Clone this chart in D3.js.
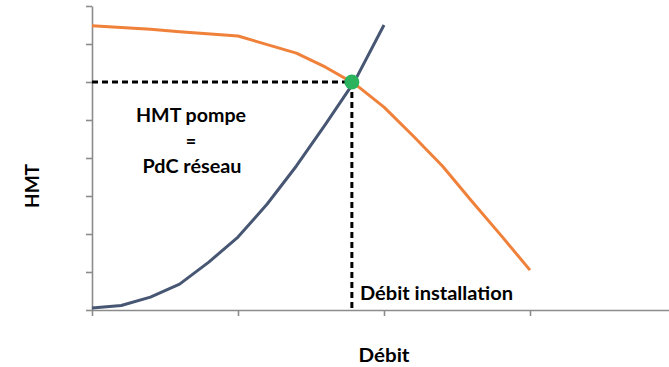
<!DOCTYPE html>
<html><head><meta charset="utf-8">
<script src="https://cdn.jsdelivr.net/npm/d3@7"></script>
<style>
html,body{margin:0;padding:0;background:#fff;}
svg{display:block;}
text{font-family:Lato,"Open Sans",sans-serif;font-weight:bold;fill:#000;}
</style></head>
<body><svg id="c" width="669" height="367"></svg>
<script>
// ---- data ----
const xTicks = [0, 1, 2, 3, 4];
const yTicks = [0, 10, 20, 30, 40, 50, 60, 70, 80];
const pumpFlow = [0, 0.4, 0.6, 1.0, 1.4, 1.6, 1.8, 2.0, 2.2, 2.4, 2.6, 2.8, 3.0];
const pumpHead = [74.8, 73.9, 73.2, 72.1, 67.6, 63.9, 59.5, 53.4, 45.8, 37.9, 28.7, 19.7, 10.5];
const netFlow = [0, 0.2, 0.4, 0.6, 0.8, 1.0, 1.2, 1.4, 1.6, 1.8, 2.0];
const netHead = [0.5, 1.2, 3.4, 6.8, 12.6, 19.2, 27.9, 37.9, 48.9, 60.3, 75];
const opFlow = 1.78, opHead = 60;
const labels = {y: "HMT", x: "Débit", op: "Débit installation", eq: ["HMT pompe", "=", "PdC réseau"]};

// ---- chart ----
const svg = d3.select("#c");
const x = d3.scaleLinear().domain([0, 4]).range([92, 676]);
const y = d3.scaleLinear().domain([0, 80]).range([310, 6]);

const axisCol = "#8c8c8c";
const gx = svg.append("g").attr("transform", "translate(0,310)")
  .call(d3.axisBottom(x).tickValues(xTicks).tickSize(6).tickSizeOuter(0).tickFormat(""));
const gy = svg.append("g").attr("transform", "translate(92,0)")
  .call(d3.axisLeft(y).tickValues(yTicks).tickSize(6).tickSizeOuter(0).tickFormat(""));
[gx, gy].forEach(g => {
  g.selectAll("path,line").attr("stroke", axisCol).attr("stroke-width", 1.6);
});

const line = d3.line().x(d => x(d[0])).y(d => y(d[1]));
const pump = pumpFlow.map((f, i) => [f, pumpHead[i]]);
const net = netFlow.map((f, i) => [f, netHead[i]]);

svg.append("path").datum(net).attr("d", line)
  .attr("fill", "none").attr("stroke", "#475673").attr("stroke-width", 3).attr("stroke-linejoin", "round");
svg.append("path").datum(pump).attr("d", line)
  .attr("fill", "none").attr("stroke", "#F0813A").attr("stroke-width", 3).attr("stroke-linejoin", "round");

// dashed guides
svg.append("line").attr("x1", x(0)).attr("x2", x(opFlow)).attr("y1", y(opHead)).attr("y2", y(opHead))
  .attr("stroke", "#000").attr("stroke-width", 3).attr("stroke-dasharray", "6,4");
svg.append("line").attr("x1", x(opFlow)).attr("x2", x(opFlow)).attr("y1", y(opHead)).attr("y2", y(0))
  .attr("stroke", "#000").attr("stroke-width", 3).attr("stroke-dasharray", "6,4");

svg.append("circle").attr("cx", x(opFlow)).attr("cy", y(opHead)).attr("r", 7.5).attr("fill", "#2BB35E");

// texts
const fs = 18;
svg.append("text").attr("x", 191).attr("y", 122).attr("text-anchor", "middle").attr("font-size", fs)
  .attr("textLength", 110).attr("lengthAdjust", "spacingAndGlyphs").text(labels.eq[0]);
svg.append("text").attr("x", 191).attr("y", 148).attr("text-anchor", "middle").attr("font-size", fs).text(labels.eq[1]);
svg.append("text").attr("x", 192).attr("y", 173).attr("text-anchor", "middle").attr("font-size", fs)
  .attr("textLength", 99).attr("lengthAdjust", "spacingAndGlyphs").text(labels.eq[2]);
svg.append("text").attr("x", 360).attr("y", 300).attr("font-size", fs)
  .attr("textLength", 153).attr("lengthAdjust", "spacingAndGlyphs").text(labels.op);
svg.append("text").attr("x", 384).attr("y", 362).attr("text-anchor", "middle").attr("font-size", fs)
  .attr("textLength", 51).attr("lengthAdjust", "spacingAndGlyphs").text(labels.x);
svg.append("text").attr("transform", "translate(39,186) rotate(-90)").attr("text-anchor", "middle")
  .attr("font-size", fs).attr("textLength", 44).attr("lengthAdjust", "spacingAndGlyphs").text(labels.y);
</script></body></html>
